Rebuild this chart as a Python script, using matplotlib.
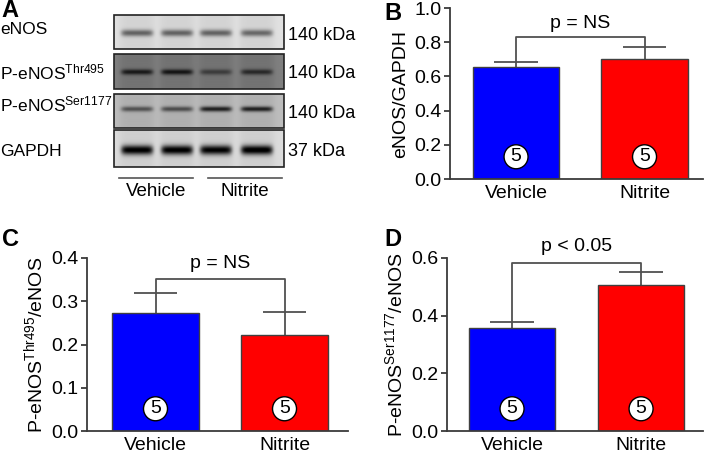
import numpy as np
import matplotlib
matplotlib.use("Agg")
import matplotlib.pyplot as plt

plt.rcParams['font.family'] = ['Liberation Sans', 'DejaVu Sans']
plt.rcParams['mathtext.fontset'] = 'custom'
plt.rcParams['mathtext.rm'] = 'Liberation Sans'
plt.rcParams['mathtext.it'] = 'Liberation Sans'

########################################################################
# data
########################################################################
groups = ["Vehicle", "Nitrite"]
n_per_group = [5, 5]
bar_colors = ["#0000ff", "#ff0000"]

enos_gapdh = [0.655, 0.700]
enos_gapdh_sem = [0.028, 0.070]

thr495_enos = [0.272, 0.223]
thr495_enos_sem = [0.048, 0.052]

ser1177_enos = [0.357, 0.507]
ser1177_enos_sem = [0.021, 0.043]

blot_labels = ["eNOS", "P-eNOS$^{\\mathrm{Thr495}}$", "P-eNOS$^{\\mathrm{Ser1177}}$", "GAPDH"]
blot_sizes = ["140 kDa", "140 kDa", "140 kDa", "37 kDa"]
# background grey level per membrane strip and band darkness per lane
blot_background = [0.88, 0.50, 0.74, 0.86]
band_darkness = [
    [0.45, 0.45, 0.45, 0.43],
    [0.36, 0.38, 0.22, 0.30],
    [0.38, 0.40, 0.58, 0.58],
    [0.84, 0.84, 0.82, 0.86],
]
band_thickness = [3.4, 2.8, 2.6, 4.8]

########################################################################
# figure
########################################################################
W, H = 709, 453
fig = plt.figure(figsize=(W / 100, H / 100), dpi=100)
spine_col = "#3a3a3a"
FS = 14


def px_axes(l, t, r, b, **kw):
    return fig.add_axes([l / W, 1 - b / H, (r - l) / W, (b - t) / H], **kw)


# ----- panel A: blot -------------------------------------------------
axA = px_axes(0, 0, W, H)
axA.set_xlim(0, W)
axA.set_ylim(H, 0)
axA.axis("off")

box_l, box_r = 114, 284
strips = [(15, 49, 33), (54, 89, 72), (94, 128, 109), (130, 167, 150)]
lane_x = np.array([137, 177, 216, 257])
label_y = [30, 72, 104, 152]
size_y = [36, 73, 113, 152]

xx = np.linspace(box_l, box_r, 340)
for i, (top, bot, band_y) in enumerate(strips):
    yy = np.linspace(top, bot, 80)
    X, Y = np.meshgrid(xx, yy)
    img = np.full(X.shape, blot_background[i])
    # lanes are a bit darker than the gaps between them
    for lx in lane_x:
        img -= 0.05 * np.exp(-((X - lx) / 18.0) ** 6)
    for j, lx in enumerate(lane_x):
        horiz = np.exp(-((X - lx) / 16.0) ** 8)
        vert = np.exp(-((Y - band_y) / band_thickness[i]) ** 2)
        img -= band_darkness[i][j] * horiz * vert
    img = np.clip(img, 0, 1)
    axA.imshow(img, cmap="gray", vmin=0, vmax=1, extent=(box_l, box_r, bot, top),
               aspect="auto", interpolation="bilinear", zorder=1)
    axA.add_patch(plt.Rectangle((box_l, top), box_r - box_l, bot - top, fill=False,
                                ec="#222222", lw=1.2, zorder=2))
    axA.text(0, label_y[i], blot_labels[i], fontsize=12.5, ha="left", va="center")
    axA.text(288, size_y[i], blot_sizes[i], fontsize=13, ha="left", va="center")

axA.plot([119, 193], [178, 178], color="#555555", lw=1.2)
axA.plot([208, 282], [178, 178], color="#555555", lw=1.2)
axA.text(156, 192, groups[0], fontsize=13.5, ha="center", va="center")
axA.text(245, 192, groups[1], fontsize=13.5, ha="center", va="center")

for letter, (lx, ly) in zip("ABCD", [(1, -1), (384, 2), (2, 228), (384, 228)]):
    axA.text(lx, ly, letter, fontsize=17, fontweight="bold", ha="left", va="top")


# ----- bar panels ----------------------------------------------------
def bar_panel(ax, means, sems, ylim, yticks, ylabel, ptext, bracket_y, text_y, xlim):
    x = np.arange(len(groups))
    tops = np.array(means) + np.array(sems)
    ax.vlines(x, means, tops, color="#505050", lw=1.3, zorder=1)
    ax.hlines(tops, x - 0.17, x + 0.17, color="#505050", lw=1.3, zorder=1)
    ax.bar(x, means, width=0.67, color=bar_colors, edgecolor="#404040", linewidth=1, zorder=2)
    ax.plot([0, 0, 1, 1], [tops[0], bracket_y, bracket_y, tops[1]], color="#505050",
            lw=1.3, clip_on=False)
    ax.text(0.5, text_y, ptext, fontsize=FS, ha="center", va="center", clip_on=False)
    for xi, n in zip(x, n_per_group):
        ax.annotate(str(n), xy=(xi, 0), xytext=(0, 16), textcoords="offset points",
                    ha="center", va="center", fontsize=FS, zorder=3,
                    bbox=dict(boxstyle="circle,pad=0.18", fc="white", ec="black", lw=1))
    ax.set_xlim(*xlim)
    ax.set_ylim(*ylim)
    ax.set_yticks(yticks)
    ax.set_yticklabels(["%.1f" % t for t in yticks])
    ax.set_xticks(x)
    ax.set_xticklabels(groups)
    ax.set_ylabel(ylabel, fontsize=FS, labelpad=4)
    for s in ["top", "right"]:
        ax.spines[s].set_visible(False)
    for s in ["left", "bottom"]:
        ax.spines[s].set_color(spine_col)
        ax.spines[s].set_linewidth(1.3)
    ax.tick_params(axis="y", length=4, width=1.3, color=spine_col, labelsize=FS, pad=2)
    ax.tick_params(axis="x", length=0, labelsize=FS, pad=4)
    ax.patch.set_alpha(0)


axB = px_axes(450, 8, 703, 179)
bar_panel(axB, enos_gapdh, enos_gapdh_sem, (0, 1.0), np.arange(0, 1.01, 0.2),
          "eNOS/GAPDH", "p = NS", 0.83, 0.91, (-0.514, 1.455))

axC = px_axes(87, 258, 348, 431)
bar_panel(axC, thr495_enos, thr495_enos_sem, (0, 0.4), np.arange(0, 0.41, 0.1),
          "P-eNOS$^{\\mathrm{Thr495}}$/eNOS", "p = NS", 0.352, 0.388, (-0.531, 1.492))

axD = px_axes(447, 258, 703, 431)
bar_panel(axD, ser1177_enos, ser1177_enos_sem, (0, 0.6), np.arange(0, 0.61, 0.2),
          "P-eNOS$^{\\mathrm{Ser1177}}$/eNOS", "p < 0.05", 0.583, 0.64, (-0.504, 1.48))

fig.savefig("out.png", dpi=100)
